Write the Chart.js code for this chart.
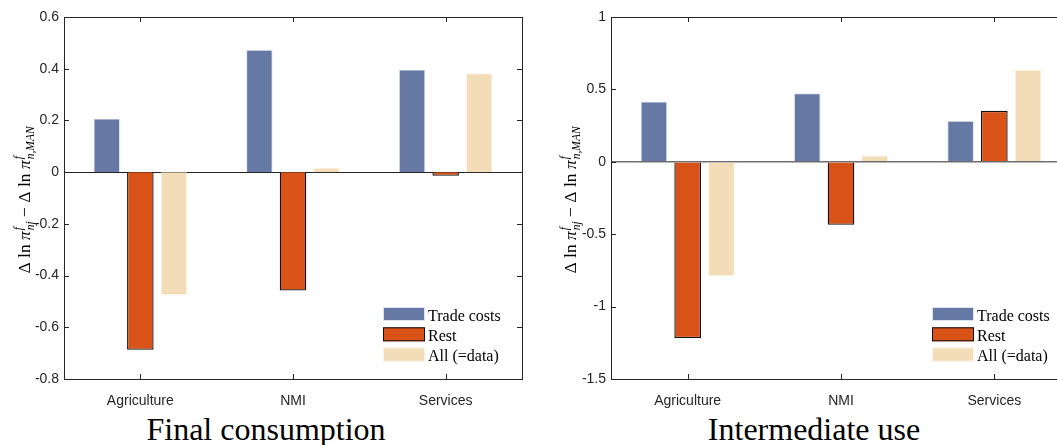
<!DOCTYPE html>
<html>
<head>
<meta charset="utf-8">
<script src="https://cdn.jsdelivr.net/npm/chart.js@4"></script>
<style>
  body { margin:0; width:1057px; height:445px; overflow:hidden; position:relative; background:#fff; }
  .box { position:absolute; top:0; height:410px; }
  .ttl { position:absolute; top:413px; font:32px "Liberation Serif", serif; line-height:32px; color:#000; white-space:nowrap; transform:translateX(-50%); }
</style>
</head>
<body>
<div class="box" style="left:0;width:530px"><canvas id="left"></canvas></div>
<div class="box" style="left:530px;width:560px"><canvas id="right"></canvas></div>
<div class="ttl" style="left:266px">Final consumption</div>
<div class="ttl" style="left:814px">Intermediate use</div>
<script>
const sectors = ['Agriculture', 'NMI', 'Services'];
const seriesNames = ['Trade costs', 'Rest', 'All (=data)'];

// final consumption
const finalTrade = [0.207, 0.473, 0.397];
const finalRest = [-0.687, -0.458, -0.014];
const finalAll = [-0.475, 0.017, 0.382];

// intermediate use
const interTrade = [0.416, 0.474, 0.283];
const interRest = [-1.217, -0.435, 0.352];
const interAll = [-0.79, 0.044, 0.635];

const finalTicks = { min: -0.8, max: 0.6, step: 0.2 };
const interTicks = { min: -1.5, max: 1, step: 0.5 };

const colTrade = '#6579a4', colRest = '#d95319', colAll = '#f3ddb9';

function makeDatasets(a, b, c) {
  return [
    { label: seriesNames[0], data: a, backgroundColor: colTrade, borderColor: '#dde3ee', borderWidth: 1, swatchBorder: '#dde3ee' },
    { label: seriesNames[1], data: b, backgroundColor: colRest, borderColor: '#111', borderWidth: 1.3, swatchBorder: '#111' },
    { label: seriesNames[2], data: c, backgroundColor: colAll, borderColor: '#fbf3e6', borderWidth: 1, swatchBorder: '#fbf3e6' },
  ];
}

// matlab like box with inward ticks
const boxPlugin = {
  id: 'mbox',
  afterDraw(chart) {
    const ctx = chart.ctx, a = chart.chartArea;
    const xs = chart.scales.x, ys = chart.scales.y;
    ctx.save();
    ctx.strokeStyle = '#262626';
    ctx.lineWidth = 1;
    ctx.strokeRect(Math.round(a.left) + 0.5, Math.round(a.top) + 0.5, Math.round(a.right - a.left), Math.round(a.bottom - a.top));
    ctx.beginPath();
    ys.ticks.forEach((t, i) => {
      const y = Math.round(ys.getPixelForTick(i)) + 0.5;
      ctx.moveTo(a.left, y); ctx.lineTo(a.left + 5, y);
      ctx.moveTo(a.right, y); ctx.lineTo(a.right - 5, y);
    });
    xs.ticks.forEach((t, i) => {
      const x = Math.round(xs.getPixelForTick(i)) + 0.5;
      ctx.moveTo(x, a.bottom); ctx.lineTo(x, a.bottom - 5);
      ctx.moveTo(x, a.top); ctx.lineTo(x, a.top + 5);
    });
    ctx.stroke();

    // legend in the lower right corner
    const lx = a.right - 139, ly = a.bottom - 72;
    chart.data.datasets.forEach((ds, i) => {
      const y = ly + i * 20.3;
      ctx.fillStyle = ds.backgroundColor;
      ctx.fillRect(lx, y, 42, 14);
      ctx.strokeStyle = ds.swatchBorder;
      ctx.lineWidth = 1;
      ctx.strokeRect(lx + 0.5, y + 0.5, 41, 13);
      ctx.fillStyle = '#000';
      ctx.font = '16px "Liberation Serif"';
      ctx.textBaseline = 'alphabetic';
      ctx.fillText(ds.label, lx + 45, y + 13.5);
    });

    // y axis title with sub/superscripts
    const o = chart.options.plugins.mbox;
    drawYLabel(ctx, o.labelX, (a.top + a.bottom) / 2 + 2);
    ctx.restore();
  }
};

function drawYLabel(ctx, bx, cy) {
  const big = '17.5px "Liberation Serif"', bigI = 'italic 17.5px "Liberation Serif"';
  const sm = 'italic 11.5px "Liberation Serif"';
  const parts = [
    { t: 'Δ ln ', f: big },
    { t: 'π', f: bigI },
    { sup: 'f', sub: 'nj' },
    { t: ' − Δ ln ', f: big },
    { t: 'π', f: bigI },
    { sup: 'f', sub: 'n,MAN' },
  ];
  let w = 0;
  parts.forEach(p => {
    if (p.t) { ctx.font = p.f; p.w = ctx.measureText(p.t).width; }
    else { ctx.font = sm; p.w = Math.max(ctx.measureText(p.sup).width, ctx.measureText(p.sub).width) + 1; }
    w += p.w;
  });
  ctx.save();
  ctx.translate(bx, cy);
  ctx.rotate(-Math.PI / 2);
  ctx.fillStyle = '#000';
  ctx.textBaseline = 'alphabetic';
  let x = -w / 2;
  parts.forEach(p => {
    if (p.t) { ctx.font = p.f; ctx.fillText(p.t, x, 0); }
    else {
      ctx.font = sm;
      ctx.fillText(p.sup, x + 1, -8);
      ctx.fillText(p.sub, x + 1, 4);
    }
    x += p.w;
  });
  ctx.restore();
}

function makeChart(id, ds, tk, yWidth, padRight, labelX, zeroCol, zeroW) {
  return new Chart(document.getElementById(id), {
    type: 'bar',
    data: { labels: sectors, datasets: ds },
    plugins: [boxPlugin],
    options: {
      responsive: true,
      maintainAspectRatio: false,
      animation: false,
      layout: { padding: { top: 17, right: padRight, left: 0, bottom: 0 } },
      datasets: { bar: { categoryPercentage: 0.66, barPercentage: 0.79 } },
      plugins: {
        legend: { display: false },
        tooltip: { enabled: false },
        mbox: { labelX: labelX },
      },
      scales: {
        x: {
          grid: { display: false },
          border: { display: false },
          ticks: { color: '#262626', font: { family: 'Liberation Sans', size: 14 }, padding: 6 },
          afterFit(s) { s.height = 31; }
        },
        y: {
          min: tk.min, max: tk.max,
          ticks: {
            stepSize: tk.step, color: '#262626', padding: 5,
            font: { family: 'Liberation Sans', size: 14 },
            callback: v => String(Math.round(v * 10) / 10)
          },
          grid: {
            drawTicks: false,
            color: c => (c.tick && Math.abs(c.tick.value) < 1e-9) ? zeroCol : 'rgba(0,0,0,0)',
            lineWidth: c => (c.tick && Math.abs(c.tick.value) < 1e-9) ? zeroW : 0,
          },
          border: { display: false },
          afterFit(s) { s.width = yWidth; }
        }
      }
    }
  });
}

makeChart('left', makeDatasets(finalTrade, finalRest, finalAll), finalTicks, 64, 8, 30, '#222', 1);
makeChart('right', makeDatasets(interTrade, interRest, interAll), interTicks, 81, 19, 46, '#6e6e6e', 1.5);
</script>
</body>
</html>
